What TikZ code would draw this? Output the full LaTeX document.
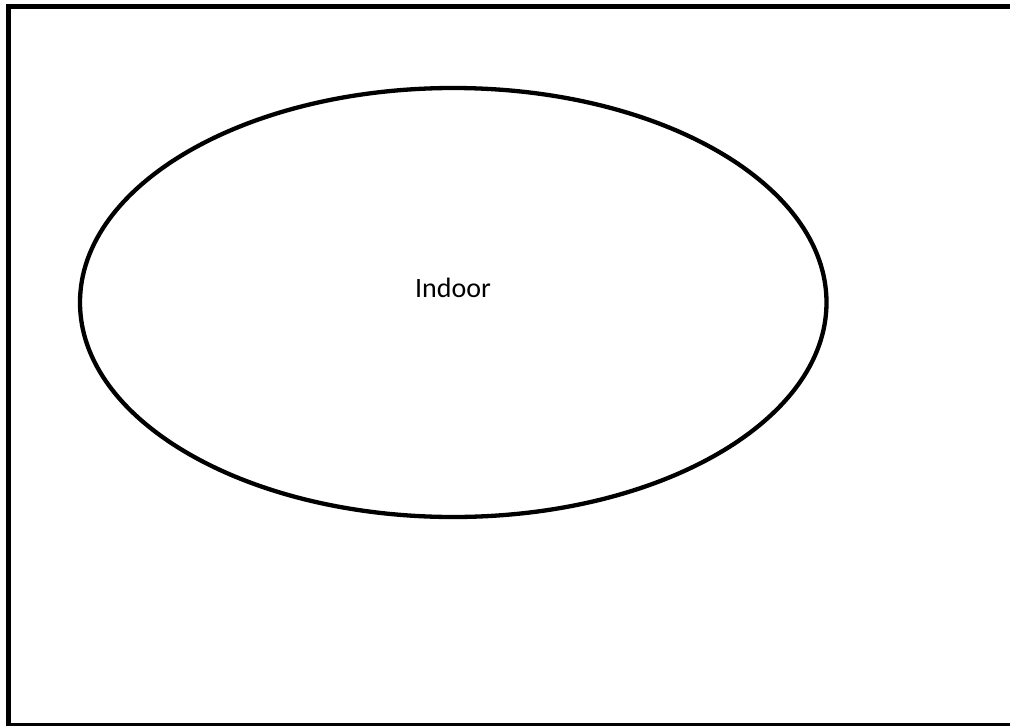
\documentclass[tikz,border=0pt]{standalone}
\usepackage{fontspec}
\setmainfont{Carlito}
\usetikzlibrary{shapes.geometric}
\begin{document}
\begin{tikzpicture}[x=1pt,y=-1pt,
  frame/.style={draw=black,line width=5pt},
  zone/.style={draw=black,line width=4.3pt,ellipse,minimum width=746.5pt,minimum height=429pt,inner sep=0pt},
  lbl/.style={font=\fontsize{28}{32}\selectfont,inner sep=0pt}]
\useasboundingbox (0,0) rectangle (1010,726);
\draw[frame] (8.5,6.5) rectangle (1014,725);
\node[zone] (indoor) at (453.25,302.5) {};
\node[lbl] (label) at (453,288) {Indoor};
\end{tikzpicture}
\end{document}
